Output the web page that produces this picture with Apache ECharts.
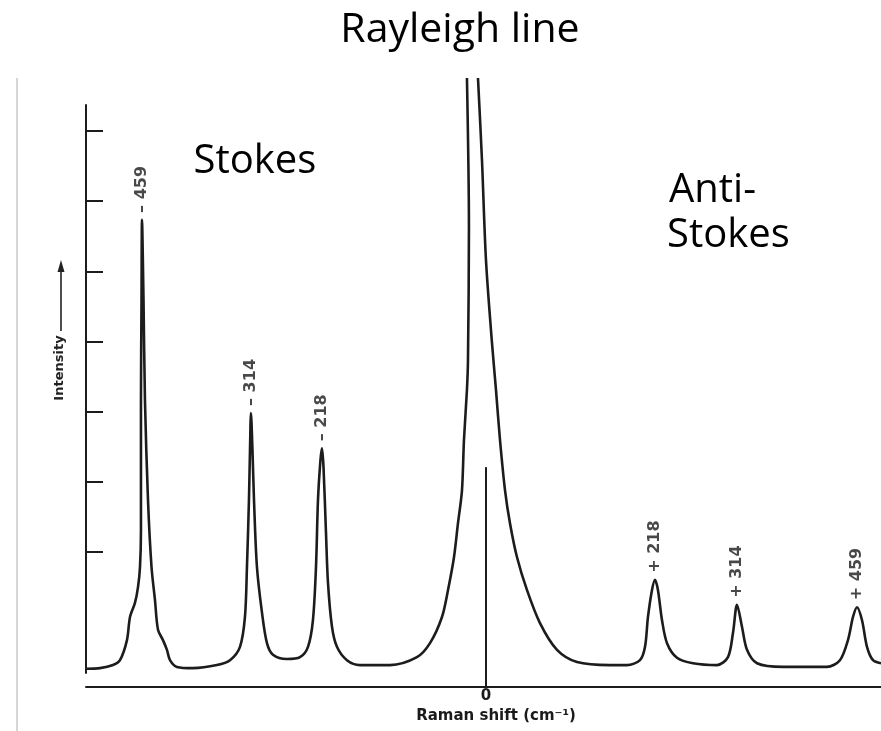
<!DOCTYPE html>
<html>
<head>
<meta charset="utf-8">
<script src="https://cdn.jsdelivr.net/npm/echarts@6/dist/echarts.min.js"></script>
<style>
  html, body { margin: 0; padding: 0; background: #fff; }
  #chart { width: 881px; height: 731px; }
</style>
</head>
<body>
<div id="chart"></div>
<script>
// Raman shift (cm^-1) and intensity (arbitrary units)
var ramanShift = [
  -500, -482.5, -466.3, -457.5, -448.8, -445, -438.8, -435, -432.5, -431.3,
  -431.3, -430.6, -430, -428.1, -426.3, -422.5, -418.1, -413.8, -410, -403.8,
  -398.8, -395, -386.3, -366.3, -336.3, -320, -307.5, -301.3, -298.8, -296.3,
  -295, -293.8, -291.9, -290, -286.3, -280, -273.8, -266.3, -248.8, -232.5,
  -222.5, -216.3, -212.5, -210, -206.9, -205, -203.1, -200, -197.5, -192.5,
  -186.3, -173.8, -157.5, -120, -86.3, -70, -55, -47.5, -40, -35,
  -30, -27.5, -23.8, -22.5, -21.3, -23.8, -16.9,
  -10, -5, 0, 7.5, 12.5, 17.5, 23.8, 30, 38.8, 51.3,
  67.5, 88.8, 113.8, 155, 176.3, 192.5, 198.8, 202.5, 207.5, 211.3,
  215, 220, 226.3, 238.8, 258.8, 288.8, 302.5, 308.8, 313.8, 320,
  326.3, 338.8, 371.3, 426.3, 442.5, 452.5, 458.8, 463.8, 470, 476.3,
  483.8, 493.8
];
var intensity = [
  3.0, 3.1, 3.6, 4.4, 7.7, 11.5, 13.8, 16.4, 19.7, 25.8,
  47.1, 63.5, 76.7, 63.5, 47.1, 30.7, 19.7, 14.3, 9.4, 7.7,
  6.1, 4.4, 3.3, 3.1, 3.6, 4.4, 6.6, 11.5, 19.7, 30.7,
  38.9, 45.0, 38.9, 30.7, 19.7, 12.2, 7.2, 5.3, 4.6, 4.9,
  6.6, 11.0, 19.7, 30.7, 37.3, 39.2, 36.1, 25.3, 17.1, 9.9,
  6.6, 4.4, 3.6, 3.6, 4.9, 7.2, 11.5, 15.9, 21.3, 26.9,
  32.3, 40.6, 48.8, 53.7, 75.5, 100, null,
  100, 86.5, 70.1, 56.5, 48.8, 40.6, 32.3, 26.9, 21.3, 15.9,
  10.5, 6.1, 4.1, 3.6, 3.6, 4.4, 6.6, 11.5, 15.9, 17.6,
  15.9, 11.0, 7.2, 4.8, 3.9, 3.6, 4.9, 8.9, 13.5, 9.9,
  6.1, 3.9, 3.3, 3.3, 4.4, 7.7, 11.5, 13.1, 11.0, 6.6,
  4.4, 3.9
];

// Peak annotations
var peakLabels = ['\u2013 459', '\u2013 314', '\u2013 218', '+ 218', '+ 314', '+ 459'];
var peakShift = [-430, -293.8, -205, 211.3, 313.8, 463.8];
var peakIntensity = [76.7, 45.0, 39.2, 17.6, 13.5, 13.1];

// Zero-shift marker line
var zeroMarkerShift = [0, 0];
var zeroMarkerIntensity = [0, 36.1];

// Intensity axis tick positions (decorative, unlabeled)
var intensityTicks = [0, 1, 2, 3, 4, 5, 6];

var xTickLabels = ['0'];

var ink = '#1c1c1c';

var curve = ramanShift.map(function (x, i) {
  return [x, intensity[i] === null ? '-' : intensity[i]];
});
var peaks = peakShift.map(function (x, i) {
  return { value: [x, peakIntensity[i]], name: peakLabels[i] };
});
var zeroLine = zeroMarkerShift.map(function (x, i) { return [x, zeroMarkerIntensity[i]]; });

var chart = echarts.init(document.getElementById('chart'), null, { renderer: 'canvas' });

var option = {
  animation: false,
  backgroundColor: '#ffffff',
  grid: [
    { left: 86, right: 0, top: 78, bottom: 44 },
    { left: 86, width: 20, top: 105, bottom: 58 },
    { left: 86, width: 20, top: 131, bottom: 179 }
  ],
  xAxis: [
    {
      type: 'value', gridIndex: 0, min: -500, max: 493.8, interval: 100,
      axisLine: { show: true, lineStyle: { color: ink, width: 2 } },
      axisTick: { show: false },
      splitLine: { show: false },
      axisLabel: {
        showMaxLabel: false, showMinLabel: false,
        margin: 2, color: '#1a1a1a', fontFamily: 'DejaVu Sans', fontWeight: 'bold', fontSize: 15,
        formatter: function (v) { return v === 0 ? xTickLabels[0] : ''; }
      },
      name: 'Raman shift (cm\u207B\u00B9)',
      nameLocation: 'middle',
      nameGap: 20,
      nameTextStyle: { color: '#1a1a1a', fontFamily: 'DejaVu Sans', fontWeight: 'bold', fontSize: 15, padding: [0, 0, 0, 25] }
    },
    { type: 'value', gridIndex: 1, show: false },
    { type: 'value', gridIndex: 2, show: false }
  ],
  yAxis: [
    { type: 'value', gridIndex: 0, min: 0, max: 100, show: false },
    {
      type: 'value', gridIndex: 1, min: 0, max: 1,
      axisLine: { show: true, lineStyle: { color: ink, width: 2 } },
      axisTick: { show: false }, axisLabel: { show: false }, splitLine: { show: false }
    },
    {
      type: 'value', gridIndex: 2, min: intensityTicks[0], max: intensityTicks[intensityTicks.length - 1], interval: 1,
      axisLine: { show: false },
      axisTick: { show: true, inside: true, length: 17, lineStyle: { color: ink, width: 2 } },
      axisLabel: { show: false }, splitLine: { show: false }
    }
  ],
  series: [
    {
      type: 'line', name: 'Raman spectrum', xAxisIndex: 0, yAxisIndex: 0,
      data: curve, showSymbol: false, symbol: 'none', connectNulls: false, clip: true,
      smooth: 0.3,
      lineStyle: { color: ink, width: 2.6 }
    },
    {
      type: 'line', name: 'zero', xAxisIndex: 0, yAxisIndex: 0,
      data: zeroLine, showSymbol: false, symbol: 'none',
      lineStyle: { color: ink, width: 2 }
    },
    {
      type: 'scatter', name: 'peaks', xAxisIndex: 0, yAxisIndex: 0,
      data: peaks, symbolSize: 0,
      label: {
        show: true, position: 'top', distance: 7, rotate: 90,
        align: 'left', verticalAlign: 'middle',
        formatter: function (p) { return p.name; },
        fontFamily: 'DejaVu Sans', fontWeight: 'bold', fontSize: 16, color: '#1a1a1a'
      }
    }
  ],
  graphic: [
    { type: 'line', shape: { x1: 17, y1: 78, x2: 17, y2: 731 }, style: { stroke: '#d6d6d6', lineWidth: 2 } },
    {
      type: 'text', x: 60, y: 368, rotation: Math.PI / 2,
      style: { text: 'Intensity', fontFamily: 'DejaVu Sans', fontWeight: 'bold', fontSize: 13, fill: '#222', align: 'center', verticalAlign: 'middle' }
    },
    { type: 'line', shape: { x1: 61, y1: 331, x2: 61, y2: 270 }, style: { stroke: '#222', lineWidth: 1.6 } },
    { type: 'polygon', shape: { points: [[61, 260], [57.5, 272], [64.5, 272]] }, style: { fill: '#222' } },
    {
      type: 'text', x: 460, y: 30,
      style: { text: 'Rayleigh line', fontFamily: 'Open Sans', fontSize: 41, fill: '#000', align: 'center', verticalAlign: 'middle' }
    },
    {
      type: 'text', x: 255, y: 162,
      style: { text: 'Stokes', fontFamily: 'Open Sans', fontSize: 40, fill: '#000', align: 'center', verticalAlign: 'middle' }
    },
    {
      type: 'text', x: 669, y: 191,
      style: { text: 'Anti-', fontFamily: 'Open Sans', fontSize: 40, fill: '#000', align: 'left', verticalAlign: 'middle' }
    },
    {
      type: 'text', x: 667, y: 236,
      style: { text: 'Stokes', fontFamily: 'Open Sans', fontSize: 40, fill: '#000', align: 'left', verticalAlign: 'middle' }
    }
  ]
};
chart.setOption(option);
</script>
</body>
</html>
